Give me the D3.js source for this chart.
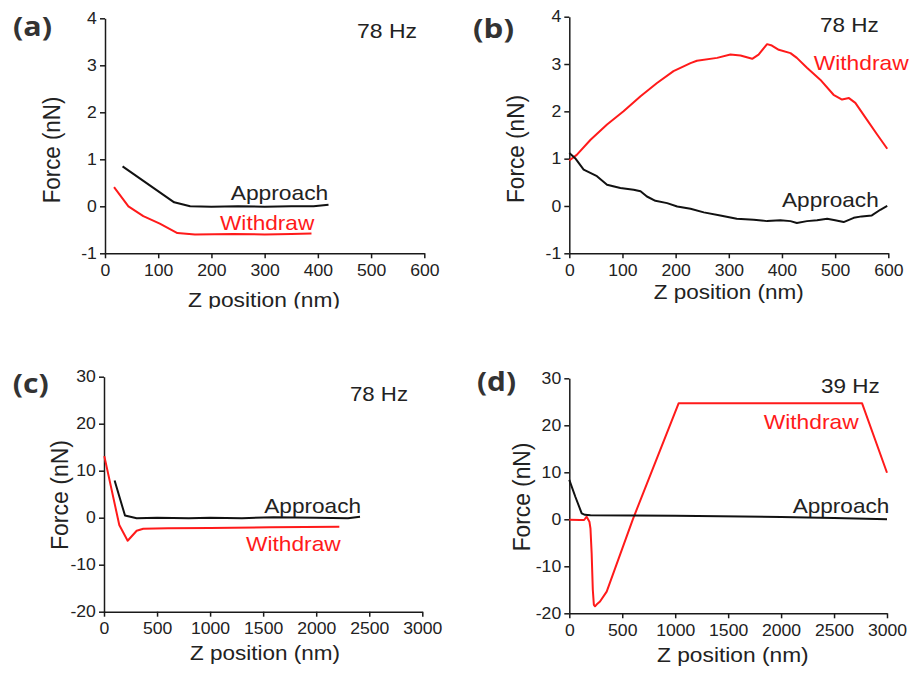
<!DOCTYPE html>
<html><head><meta charset="utf-8">
<script src="https://cdn.jsdelivr.net/npm/d3@7"></script>
<style>
body{margin:0;background:#fff}
svg{display:block}
</style>
</head><body>
<svg id="chart" width="914" height="673"></svg>
<script>
// ---------- data ----------
// Panel (a)
const aApproachZ = [33, 130, 160, 200, 250, 300, 350, 392, 420];
const aApproachF = [0.85, 0.085, 0.0, -0.01, 0.0, -0.01, 0.0, 0.0, 0.035];
const aWithdrawZ = [17, 44, 72, 103, 136, 169, 241, 300, 350, 388];
const aWithdrawF = [0.41, 0.0, -0.21, -0.37, -0.57, -0.60, -0.59, -0.60, -0.59, -0.58];
// Panel (b)
const bApproachZ = [0, 11, 27, 52, 71, 96, 121, 134, 146, 162, 184, 203, 228, 253, 284, 315, 347, 372, 397, 416, 428, 447, 466, 485, 500, 516, 535, 550, 569, 585, 598];
const bApproachF = [1.12, 1.01, 0.77, 0.63, 0.45, 0.38, 0.345, 0.31, 0.20, 0.11, 0.06, -0.01, -0.06, -0.135, -0.20, -0.27, -0.29, -0.32, -0.30, -0.32, -0.36, -0.32, -0.30, -0.27, -0.30, -0.34, -0.25, -0.22, -0.20, -0.08, 0.0];
const bWithdrawZ = [0, 14, 40, 71, 102, 134, 165, 196, 228, 240, 278, 303, 322, 344, 356, 372, 381, 394, 416, 428, 447, 472, 497, 513, 526, 538, 560, 579, 598];
const bWithdrawF = [0.96, 1.08, 1.40, 1.72, 2.0, 2.32, 2.6, 2.85, 3.02, 3.07, 3.13, 3.2, 3.18, 3.11, 3.2, 3.42, 3.39, 3.30, 3.23, 3.13, 2.92, 2.67, 2.35, 2.25, 2.28, 2.18, 1.82, 1.51, 1.21];
// Panel (c)
const cApproachZ = [100, 198, 308, 500, 800, 1000, 1300, 1600, 2000, 2300, 2413];
const cApproachF = [7.9, 0.45, -0.13, 0.0, -0.1, 0.0, -0.1, 0.1, 0.0, -0.1, 0.2];
const cWithdrawZ = [3, 144, 223, 308, 370, 600, 1000, 1565, 2218];
const cWithdrawF = [13.1, -1.55, -4.9, -2.77, -2.34, -2.26, -2.2, -2.05, -1.9];
// Panel (d)
const dApproachZ = [0, 57, 117, 148, 200, 1000, 2000, 2500, 3000];
const dApproachF = [8.4, 4.8, 1.28, 0.95, 0.85, 0.75, 0.5, 0.3, 0.0];
const dWithdrawZ = [0, 100, 140, 164, 190, 200, 211, 222, 232, 243, 260, 290, 353, 600, 1033, 2764, 3000];
const dWithdrawF = [-0.1, -0.15, -0.15, 0.55, -0.5, -2.0, -7.2, -15.0, -18.2, -18.5, -18.1, -17.5, -15.4, 0.0, 24.7, 24.7, 9.9];

// ticks and labels
const xTicksTop = [0, 100, 200, 300, 400, 500, 600];
const yTicksTop = [-1, 0, 1, 2, 3, 4];
const xTicksBottom = [0, 500, 1000, 1500, 2000, 2500, 3000];
const yTicksBottom = [-20, -10, 0, 10, 20, 30];
const panelLetters = ["(a)", "(b)", "(c)", "(d)"];
const freqLabels = ["78 Hz", "78 Hz", "78 Hz", "39 Hz"];
const seriesNames = ["Approach", "Withdraw"];
const xTitle = "Z position (nm)";
const yTitle = "Force (nN)";

// ---------- layout ----------
const panels = [
  {ax: aApproachZ, ay: aApproachF, wx: aWithdrawZ, wy: aWithdrawF, xd:[0,600], yd:[-1,4], xt:xTicksTop, yt:yTicksTop,
   x0:105, x1:424.3, yT:18.3, yB:253.3,
   letter:[13,35.5,39], freq:[357,38.3,60], appr:[230.7,200,97.6], wdr:[220,230,94.3],
   xtl:[188,306.5,152], ytl:[59.5,150,106.7], clipY:308.5},
  {ax: bApproachZ, ay: bApproachF, wx: bWithdrawZ, wy: bWithdrawF, xd:[0,600], yd:[-1,4], xt:xTicksTop, yt:yTicksTop,
   x0:569.3, x1:888.3, yT:16.7, yB:253.3,
   letter:[473,38,41], freq:[820,31.7,58.7], appr:[782,207.3,96.7], wdr:[813.7,70,95],
   xtl:[653.7,298.7,150], ytl:[523.7,149,108]},
  {ax: cApproachZ, ay: cApproachF, wx: cWithdrawZ, wy: cWithdrawF, xd:[0,3000], yd:[-20,30], xt:xTicksBottom, yt:yTicksBottom,
   x0:104, x1:422.3, yT:376.7, yB:611.7,
   letter:[12.7,393,36], freq:[350,400.7,58], appr:[264.3,513.3,96.7], wdr:[246,551.3,94.7],
   xtl:[190,660,150], ytl:[67.7,495,110]},
  {ax: dApproachZ, ay: dApproachF, wx: dWithdrawZ, wy: dWithdrawF, xd:[0,3000], yd:[-20,30], xt:xTicksBottom, yt:yTicksBottom,
   x0:569.3, x1:887, yT:378.3, yB:613.3,
   letter:[477,391,39], freq:[821,393.3,58.7], appr:[792.7,513.3,96.6], wdr:[763.7,429,95],
   xtl:[657,661.7,151.7], ytl:[530,497,108.7]}
];

const RED = "#ff1a1a";
const FONT = "'Liberation Sans', Arial, sans-serif";
const svg = d3.select("#chart");
const defs = svg.append("defs");

panels.forEach((p, i) => {
  const g = svg.append("g");
  const x = d3.scaleLinear().domain(p.xd).range([p.x0, p.x1]);
  const y = d3.scaleLinear().domain(p.yd).range([p.yB, p.yT]);

  // axes
  const xa = g.append("g").attr("transform", `translate(0,${p.yB})`)
    .call(d3.axisBottom(x).tickValues(p.xt).tickFormat(d => String(d)).tickSize(5).tickSizeOuter(0).tickPadding(6));
  const ya = g.append("g").attr("transform", `translate(${p.x0},0)`)
    .call(d3.axisLeft(y).tickValues(p.yt).tickFormat(d => String(d)).tickSize(5).tickSizeOuter(0).tickPadding(2.4));
  [xa, ya].forEach(a => {
    a.select(".domain").attr("stroke", "#1a1a1a").attr("stroke-width", 1.5);
    a.selectAll(".tick line").attr("stroke", "#1a1a1a").attr("stroke-width", 1.5);
    a.selectAll(".tick text").style("font-size", "16px").style("fill", "#222")
      .style("font-family", FONT)
      .attr("transform", "scale(1.1,1)");
  });

  // lines
  const line = d3.line().x(d => x(d[0])).y(d => y(d[1]));
  g.append("path").datum(d3.zip(p.wx, p.wy)).attr("d", line)
    .attr("fill", "none").attr("stroke", RED).attr("stroke-width", 2).attr("stroke-linejoin", "round");
  g.append("path").datum(d3.zip(p.ax, p.ay)).attr("d", line)
    .attr("fill", "none").attr("stroke", "#111").attr("stroke-width", 2).attr("stroke-linejoin", "round");

  // texts
  const T = (arr, str, size, fill, family, weight) => {
    return g.append("text").attr("x", arr[0]).attr("y", arr[1]).text(str)
      .style("font-size", size + "px").style("fill", fill)
      .style("font-family", family || FONT).style("font-weight", weight || 400)
      .attr("textLength", arr[2]).attr("lengthAdjust", "spacingAndGlyphs");
  };
  T(p.letter, panelLetters[i], 27, "#333", "'Open Sans', sans-serif", 700);
  T(p.freq, freqLabels[i], 21, "#222");
  T(p.appr, seriesNames[0], 21, "#222");
  T(p.wdr, seriesNames[1], 21, RED);
  const xt = T(p.xtl, xTitle, 19.5, "#222");
  if (p.clipY) {
    defs.append("clipPath").attr("id", "clip" + i).append("rect")
      .attr("x", 0).attr("y", 0).attr("width", 457).attr("height", p.clipY);
    xt.attr("clip-path", `url(#clip${i})`);
  }
  g.append("text").attr("transform", `translate(${p.ytl[0]},${p.ytl[1]}) scale(1.15,1) rotate(-90)`)
    .attr("text-anchor", "middle").style("font-size", "21px").style("fill", "#222")
    .style("font-family", FONT)
    .attr("textLength", p.ytl[2]).attr("lengthAdjust", "spacingAndGlyphs")
    .text(yTitle);
});
</script>
</body></html>
